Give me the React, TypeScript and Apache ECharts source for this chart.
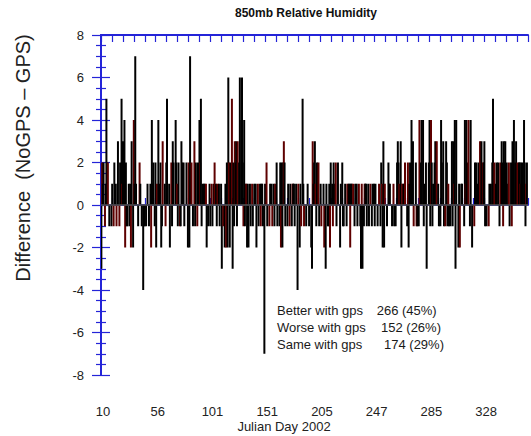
import { useEffect, useRef } from "react";
import * as echarts from "echarts";

// 850mb relative humidity difference (NoGPS - GPS), one value per analysis time
const humidityDiff: number[] = [
  -3, 2, 1, 2, 0, -1, 1, 5, 2, 2, 0, -1, 0, 0, -1, 1, 0, -1, 2, 0,
  1, -1, 0, 3, 0, -1, 2, 0, 5, 1, 3, 0, 4, -2, 2, -1, -1, 0, 1, -1,
  1, -2, 3, 0, -2, 4, 1, 7, 1, 0, 0, -1, 0, 2, 1, 0, -1, 0, -4, -1,
  -1, 0, -1, 0, 1, 0, -1, 0, 1, -2, 4, 1, 2, 0, -1, 2, -2, 1, 0, 4,
  1, 0, 2, -2, -1, 3, 0, 0, 1, -1, 2, 5, 0, 0, 1, -2, 0, 2, -1, 3,
  2, 0, 0, 4, 2, 1, -1, 2, 0, -1, -1, 3, 2, 0, 2, -1, 0, 0, 2, 0,
  -2, 2, -2, 7, 0, 2, 0, -1, 0, 3, -1, 2, 0, -1, 2, 0, 4, 2, 5, -1,
  1, 0, 1, 1, 0, 1, -2, 0, -1, 0, 1, -1, 0, 1, -1, 0, 1, 2, 0, 1,
  -1, 1, 0, 1, -1, 0, 1, -3, 0, -1, 0, -2, 1, -2, 2, -2, 6, 2, -2, 2,
  0, 5, -3, 2, -1, 3, 2, 3, -1, 3, 0, 2, 6, 0, 4, 6, 2, -1, 4, -1,
  1, 1, -2, 1, -2, 0, 1, -1, 0, 1, -1, 0, 1, 0, 1, -2, 0, 1, -1, 0,
  1, -1, 1, 1, -1, 0, -7, 1, 0, 2, -1, 0, 0, -1, 1, 0, 1, -1, 0, 1,
  -1, 1, 0, 2, -1, 0, 0, -1, 2, -2, 2, -2, 2, 3, 2, -1, 0, 0, -1, 1,
  0, -1, 1, 0, -1, 1, 1, 1, -1, 0, 1, 0, -4, 1, 0, -2, 1, -1, 0, 5,
  1, -1, 0, 0, -1, 0, 1, 0, -1, 0, 0, -2, -3, 3, 1, 2, 3, 1, -1, 2,
  1, 2, -1, 0, 1, -1, 0, 0, 1, -2, 0, -3, 1, 0, -1, -1, 1, -2, 2, 0,
  1, -1, 2, 0, 1, 2, -1, 0, 2, 0, 0, -2, 1, 0, 2, -1, -1, 0, 1, 0,
  -1, 1, 0, 1, 1, -2, 1, 1, 0, 1, 0, -1, 1, 0, 1, -1, 0, 1, 0, -1,
  -3, 1, -3, 0, -1, 1, 1, 1, -1, 0, 1, -1, 0, 1, 0, -1, 1, 0, 1, -1,
  1, 0, 0, -1, 0, 1, 0, -1, 2, 1, -2, 3, -2, 1, 0, 0, -1, 0, 2, 1,
  1, 0, 0, -1, 0, 1, -1, 0, -1, 0, 2, 3, 2, 1, 0, 3, -2, 1, 0, 1,
  1, 2, 0, 0, -1, 2, -2, 1, 2, 0, 4, 1, 3, -1, 0, 0, 2, -1, -1, 0,
  -1, 4, 0, 2, 4, 0, 4, -1, 1, 0, 2, -3, 0, 0, 2, 4, -1, 4, 2, -1,
  1, 0, 2, 3, 0, 3, 0, 1, -1, 0, -1, 4, 2, 0, 3, -1, 0, -1, 3, 2,
  -1, 1, -1, 0, -1, 0, 3, -1, 3, 1, 4, -3, 4, 0, 0, -2, 1, -2, 0, 1,
  1, 0, 0, -1, 4, 1, 4, 0, 2, 4, 0, -1, 4, 0, -2, 0, 0, -1, 2, 1,
  2, 0, 1, 2, 0, 3, 0, 3, 0, 2, 2, 3, -1, 0, -1, 0, 0, -1, 1, 0,
  1, 0, 2, 5, 0, 2, 0, 1, 2, 0, 2, 0, -1, 2, 0, 3, 2, -1, 3, 2,
  3, 0, 2, 0, 1, 2, -1, 0, 2, -1, 3, 2, 4, 0, 2, 3, 0, 2, 0, 2,
  2, 1, 2, 0, 2, 0, 4, 2, -1, 1, 2, 0,
];

// Julian day shown under every fifth tick of the time axis
const dayLabels: string[] = ["10", "56", "101", "151", "205", "247", "285", "328"];

// Summary of the comparison
const summaryNames: string[] = ["Better with gps", "Worse with gps", "Same with gps"];
const summaryCounts: string[] = ["266 (45%)", "152 (26%)", "174 (29%)"];

const FONT = "'Liberation Sans', Arial, Helvetica, sans-serif";
const AXIS_BLUE = "#2424d8";
const TICK_STEPS = 39;

export default function App() {
  const ref = useRef<HTMLDivElement>(null);

  useEffect(() => {
    if (!ref.current) return;
    const chart = echarts.init(ref.current, null, { renderer: "svg" });

    const blueLine = { show: true, lineStyle: { color: AXIS_BLUE, width: 2 } };
    const xTicks = { show: true, inside: true, length: 7, lineStyle: { color: AXIS_BLUE, width: 1.2 } };
    const yTicks = { show: true, inside: true, length: 9, lineStyle: { color: AXIS_BLUE, width: 1.2 } };
    const yMinor = { show: true, splitNumber: 4, length: 5, lineStyle: { color: AXIS_BLUE, width: 1.2 } };

    const countX = [376.7, 381, 384];

    chart.setOption({
      animation: false,
      grid: { left: 101, right: 2, top: 35, bottom: 61, containLabel: false },
      xAxis: [
        {
          type: "category",
          data: humidityDiff.map((_, i) => String(i)),
          position: "bottom",
          axisLine: { show: false },
          axisTick: { show: false },
          axisLabel: { show: false },
          splitLine: { show: false },
        },
        {
          type: "value",
          position: "bottom",
          min: 0,
          max: TICK_STEPS,
          interval: 1,
          axisLine: blueLine,
          axisTick: xTicks,
          axisLabel: {
            show: true,
            margin: 30,
            fontSize: 13,
            color: "#222",
            fontFamily: FONT,
            padding: [0, 0, 0, 4],
            formatter: (v: number) => (v % 5 === 0 ? dayLabels[v / 5] ?? "" : ""),
          },
          splitLine: { show: false },
        },
        {
          type: "value",
          position: "top",
          min: 0,
          max: TICK_STEPS,
          interval: 1,
          axisLine: blueLine,
          axisTick: xTicks,
          axisLabel: { show: false },
          splitLine: { show: false },
        },
      ],
      yAxis: [
        {
          type: "value",
          position: "left",
          min: -8,
          max: 8,
          interval: 2,
          axisLine: blueLine,
          axisTick: yTicks,
          minorTick: yMinor,
          axisLabel: {
            margin: 17,
            fontSize: 13,
            color: "#222",
            fontFamily: FONT,
            padding: [14, 0, 0, 0],
          },
          splitLine: { show: false },
          minorSplitLine: { show: false },
        },
        {
          type: "value",
          position: "right",
          min: -8,
          max: 8,
          interval: 2,
          axisLine: blueLine,
          axisTick: yTicks,
          minorTick: yMinor,
          axisLabel: { show: false },
          splitLine: { show: false },
          minorSplitLine: { show: false },
        },
      ],
      series: [
        {
          type: "bar",
          xAxisIndex: 0,
          yAxisIndex: 0,
          data: humidityDiff,
          barWidth: 2,
          itemStyle: {
            color: (p: any) => (p.dataIndex % 4 === 1 ? "#5e0000" : "#000000"),
          },
          markLine: {
            silent: true,
            symbol: "none",
            label: { show: false },
            lineStyle: { color: "#555555", width: 1.5, type: "solid" },
            data: [{ yAxis: 0 }],
          },
        },
      ],
      graphic: [
        {
          type: "text",
          x: 306,
          y: 13,
          style: {
            text: "850mb Relative Humidity",
            font: `bold 12px ${FONT}`,
            fill: "#111",
            align: "center",
            verticalAlign: "middle",
            textAlign: "center",
            textVerticalAlign: "middle",
          },
        },
        {
          type: "text",
          x: 23,
          y: 158,
          rotation: Math.PI / 2,
          style: {
            text: "Difference  (NoGPS \u2013 GPS)",
            font: `20px ${FONT}`,
            fill: "#222",
            align: "center",
            verticalAlign: "middle",
            textAlign: "center",
            textVerticalAlign: "middle",
          },
        },
        {
          type: "text",
          x: 284,
          y: 426,
          style: {
            text: "Julian Day 2002",
            font: `13px ${FONT}`,
            fill: "#222",
            align: "center",
            verticalAlign: "middle",
            textAlign: "center",
            textVerticalAlign: "middle",
          },
        },
        ...summaryNames.map((name, k) => ({
          type: "text",
          x: 277,
          y: 310 + k * 17,
          style: {
            text: name,
            font: `13px ${FONT}`,
            fill: "#1a1a1a",
            align: "left",
            verticalAlign: "middle",
            textAlign: "left",
            textVerticalAlign: "middle",
          },
        })),
        ...summaryCounts.map((count, k) => ({
          type: "text",
          x: countX[k],
          y: 310 + k * 17,
          style: {
            text: count,
            font: `13px ${FONT}`,
            fill: "#1a1a1a",
            align: "left",
            verticalAlign: "middle",
            textAlign: "left",
            textVerticalAlign: "middle",
          },
        })),
      ],
    });

    return () => chart.dispose();
  }, []);

  return (
    <div
      ref={ref}
      style={{ position: "fixed", left: 0, top: 0, width: 531, height: 436, background: "#ffffff" }}
    />
  );
}
